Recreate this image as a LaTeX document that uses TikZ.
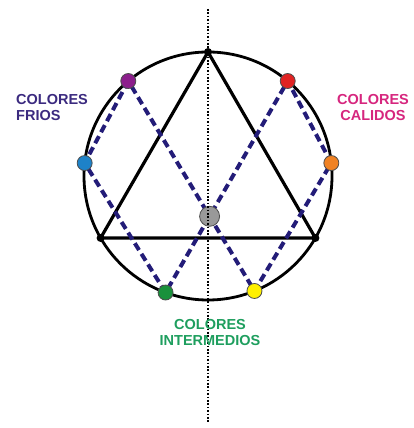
\documentclass[tikz,border=0pt]{standalone}
\usepackage{fontspec}
\setmainfont{Liberation Sans}
\usetikzlibrary{positioning}

\definecolor{navy}{HTML}{231C78}
\definecolor{frio}{HTML}{3B2A7F}
\definecolor{calido}{HTML}{D6267E}
\definecolor{medio}{HTML}{1E9E5E}

\begin{document}
\begin{tikzpicture}[x=1pt, y=1pt,
      dot/.style={circle, draw=black!70, line width=0.8pt, inner sep=0pt,
                  minimum size=15pt},
      vertex/.style={circle, fill=black, inner sep=0pt, minimum size=8pt},
      rim/.style={line width=2.8pt},
      tri/.style={line width=3.2pt, line join=round},
      chord/.style={navy, line width=4pt, dash pattern=on 8pt off 4.5pt},
      axis/.style={line width=1.7pt, dash pattern=on 1.7pt off 1.7pt},
      label/.style={font=\fontsize{14.5}{16.5}\selectfont\bfseries, inner sep=0pt}]
    \useasboundingbox (0,0) rectangle (413,428);
    \coordinate (c) at (208,252);
    \draw[rim] (c) circle (124);

    % triangle
    \node[vertex] (top) at ([shift={(c)}]90:124) {};
    \node[vertex] (bl) at ([shift={(c)}]210:124) {};
    \node[vertex] (br) at ([shift={(c)}]330:124) {};
    \draw[tri] (top.center) -- (bl.center) -- (br.center) -- cycle;

    % colour points on the wheel
    \coordinate (pu) at ([shift={(c)}]130:124);
    \coordinate (re) at ([shift={(c)}]50:124);
    \coordinate (bu) at ([shift={(c)}]174:124);
    \coordinate (or) at ([shift={(c)}]6:124);
    \coordinate (gr) at ([shift={(c)}]250:124);
    \coordinate (ye) at ([shift={(c)}]292:124);

    \draw[chord] (pu) -- (bu) -- (gr) -- (re) -- (or) -- (ye) -- cycle;

    \node[dot, fill={rgb,255:red,140;green,30;blue,140}] (purple) at (pu) {};
    \node[dot, fill={rgb,255:red,225;green,35;blue,35}] (red) at (re) {};
    \node[dot, fill={rgb,255:red,30;green,130;blue,200}] (blue) at (bu) {};
    \node[dot, fill={rgb,255:red,240;green,130;blue,35}] (orange) at (or) {};
    \node[dot, fill={rgb,255:red,25;green,145;blue,60}] (green) at (gr) {};
    \node[dot, fill={rgb,255:red,255;green,240;blue,0}] (yellow) at (ye) {};
    \node[dot, fill=black!40, minimum size=20pt] (grey)
      at (intersection of pu--ye and re--gr) {};

    % axis
    \coordinate (up) at (208,419);
    \coordinate (down) at (208,5);
    \draw[axis] (up) -- (down);

    \node[label, frio, align=left, anchor=north west] (frios) at (16,334)
      {COLORES\\FRIOS};
    \node[label, calido, align=center, anchor=north] (calidos) at (373,334)
      {COLORES\\CALIDOS};
    \node[label, medio, align=center, anchor=north] (medios) at (210,109)
      {COLORES\\INTERMEDIOS};
  \end{tikzpicture}
\end{document}
